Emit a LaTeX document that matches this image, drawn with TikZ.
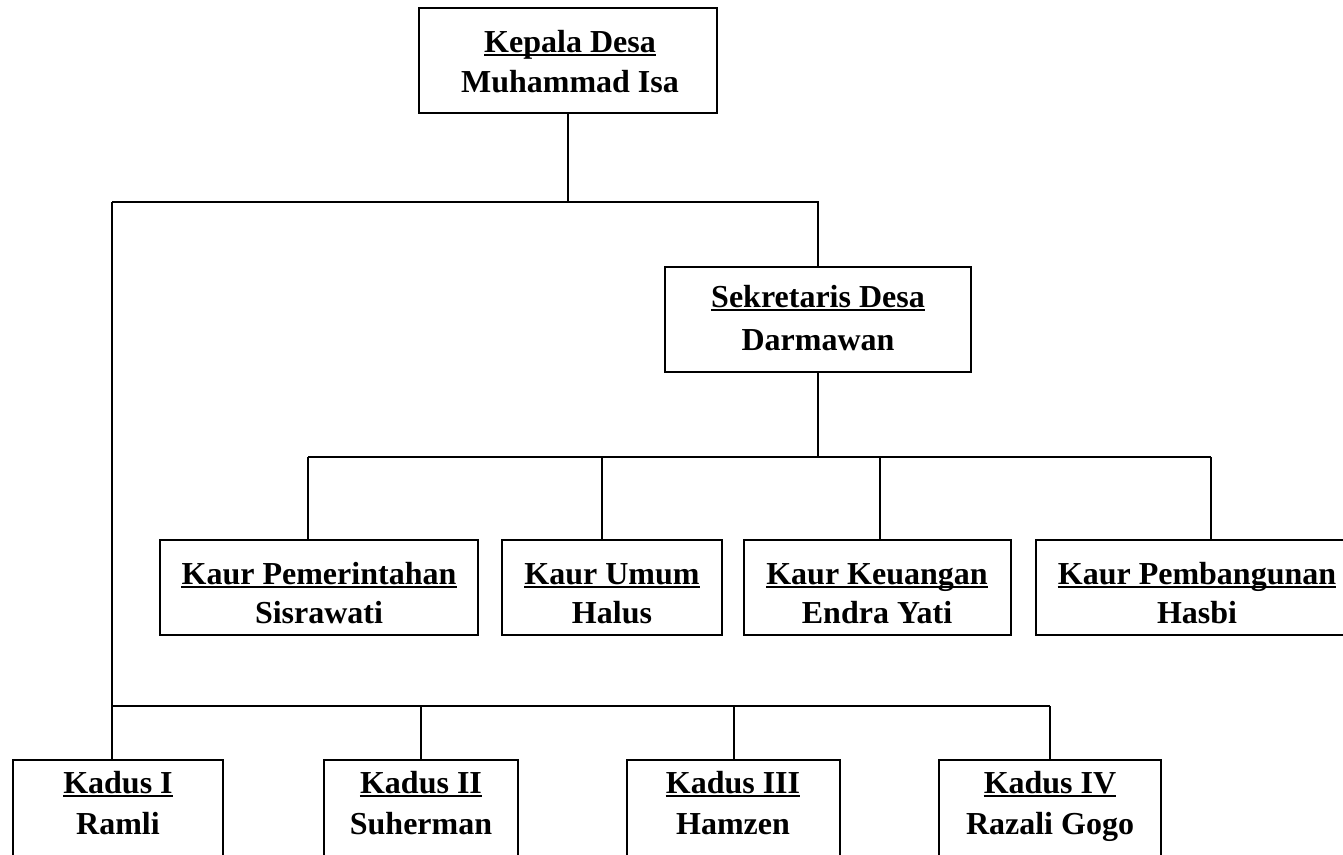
\documentclass[tikz,border=0pt]{standalone}
\usepackage{fontspec}
\setmainfont{Liberation Serif}
\begin{document}
\begin{tikzpicture}[x=1pt,y=-1pt,
  box/.style={draw, line width=2pt, rectangle, inner sep=0pt, outer sep=0pt, anchor=north west},
  ttl/.style={font=\bfseries\fontsize{32}{38}\selectfont, anchor=base, inner sep=0pt},
  ul/.style={line width=2.5pt},
  wire/.style={line width=2pt}]
\useasboundingbox (0,0) rectangle (1343,854);
\clip (0,0) rectangle (1343,854);
% boxes
\node[box, minimum width=298pt, minimum height=105pt] (kep) at (419,8) {};
\node[box, minimum width=306pt, minimum height=105pt] (sek) at (665,267) {};
\node[box, minimum width=318pt, minimum height=95pt] (kur1) at (160,540) {};
\node[box, minimum width=220pt, minimum height=95pt] (kur2) at (502,540) {};
\node[box, minimum width=267pt, minimum height=95pt] (kur3) at (744,540) {};
\node[box, minimum width=322pt, minimum height=95pt] (kur4) at (1036,540) {};
\node[box, minimum width=210pt, minimum height=150pt] (kd1) at (13,760) {};
\node[box, minimum width=194pt, minimum height=150pt] (kd2) at (324,760) {};
\node[box, minimum width=213pt, minimum height=150pt] (kd3) at (627,760) {};
\node[box, minimum width=222pt, minimum height=150pt] (kd4) at (939,760) {};
% texts
\node[ttl] (t0) at (570,52) {Kepala Desa};
\node[ttl] (n0) at (570,92) {Muhammad Isa};
\node[ttl] (t1) at (818,307) {Sekretaris Desa};
\node[ttl] (n1) at (818,350) {Darmawan};
\node[ttl] (t2) at (319,584) {Kaur Pemerintahan};
\node[ttl] (n2) at (319,623) {Sisrawati};
\node[ttl] (t3) at (612,584) {Kaur Umum};
\node[ttl] (n3) at (612,623) {Halus};
\node[ttl] (t4) at (877,584) {Kaur Keuangan};
\node[ttl] (n4) at (877,623) {Endra Yati};
\node[ttl] (t5) at (1197,584) {Kaur Pembangunan};
\node[ttl] (n5) at (1197,623) {Hasbi};
\node[ttl] (t6) at (118,793) {Kadus I};
\node[ttl] (n6) at (118,834) {Ramli};
\node[ttl] (t7) at (421,793) {Kadus II};
\node[ttl] (n7) at (421,834) {Suherman};
\node[ttl] (t8) at (733,793) {Kadus III};
\node[ttl] (n8) at (733,834) {Hamzen};
\node[ttl] (t9) at (1050,793) {Kadus IV};
\node[ttl] (n9) at (1050,834) {Razali Gogo};
% underlines
\foreach \t in {t0,t1,t2,t3,t4,t5,t6,t7,t8,t9}
  \draw[ul] ([yshift=-3pt]\t.base west) -- ([yshift=-3pt]\t.base east);
% connectors
\coordinate (j1) at (568,202);
\coordinate (lt) at (112,202);
\coordinate (lb) at (112,706);
\coordinate (re) at (1050,706);
\coordinate (kb) at (818,457);
\coordinate (d1) at (308,457);
\coordinate (d2) at (602,457);
\coordinate (d3) at (880,457);
\coordinate (d4) at (1211,457);
\draw[wire] (j1 |- kep.south) -- (j1);
\draw[wire] (lt) -- (kb |- lt) -- (kb |- sek.north);
\draw[wire] (lt) -- (lb);
\draw[wire] (kb |- sek.south) -- (kb);
\draw[wire] (d1) -- (d4);
\draw[wire] (d1) -- (d1 |- kur1.north);
\draw[wire] (d2) -- (d2 |- kur2.north);
\draw[wire] (d3) -- (d3 |- kur3.north);
\draw[wire] (d4) -- (d4 |- kur4.north);
\draw[wire] (lb) -- (re);
\draw[wire] (lb) -- (lb |- kd1.north);
\draw[wire] (kd2.north |- lb) -- (kd2.north);
\draw[wire] (kd3.north |- lb) -- (kd3.north);
\draw[wire] (re) -- (re |- kd4.north);
\end{tikzpicture}
\end{document}
